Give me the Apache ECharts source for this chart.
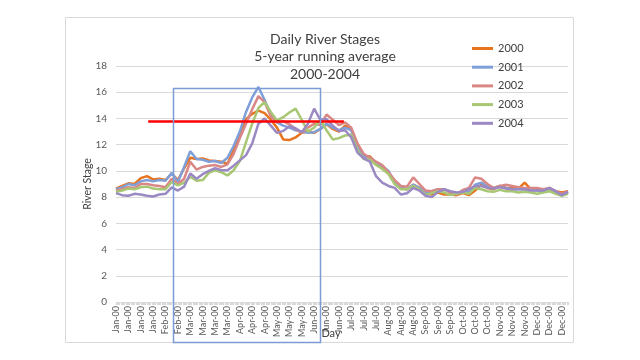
<!DOCTYPE html>
<html><head><meta charset="utf-8">
<script src="https://cdn.jsdelivr.net/npm/echarts@6/dist/echarts.min.js"></script>
<style>html,body{margin:0;padding:0;background:#fff}#c{width:640px;height:360px}</style>
</head><body><div id="c"></div>
<script>
// Day of year (2000) of each sampled point
const days = [0,5,10,15,20,25,30,35,40,45,50,55,60,65,70,75,80,85,90,95,100,105,110,115,120,125,130,135,140,145,150,155,160,165,170,175,180,
  185,190,195,200,205,210,215,220,225,230,235,240,245,250,255,260,265,270,275,280,285,290,295,300,305,310,315,320,325,330,335,340,345,350,355,360,365];

const seriesNames = ['2000','2001','2002','2003','2004'];
const seriesColors = ['#E8731E','#7E9FD8','#D98785','#A8C774','#9A89C2'];

const stage2000 = [8.65,8.85,9.05,9.0,9.45,9.6,9.35,9.4,9.3,9.8,9.3,10.2,11.0,10.9,10.95,10.8,10.75,10.7,10.55,11.6,12.8,13.95,14.35,14.6,14.4,13.9,13.3,12.4,12.35,12.55,12.9,13.0,12.9,13.2,13.55,13.2,13.0,
  13.45,13.15,11.7,11.15,11.1,10.6,10.35,9.85,9.1,8.7,8.6,8.95,8.7,8.35,8.2,8.35,8.2,8.2,8.15,8.3,8.15,8.5,8.95,8.7,8.6,8.85,8.7,8.7,8.65,9.1,8.6,8.6,8.6,8.6,8.45,8.35,8.45];
const stage2001 = [8.6,8.75,9.0,8.9,9.2,9.3,9.2,9.3,9.25,9.85,9.15,10.3,11.5,10.9,10.85,10.7,10.75,10.6,11.0,11.9,13.0,14.5,15.6,16.4,15.4,14.3,13.7,13.45,13.3,13.1,13.0,12.9,12.95,13.2,13.6,13.3,13.1,
  13.3,13.1,11.8,11.1,11.0,10.65,10.4,10.0,9.1,8.7,8.6,8.95,8.7,8.35,8.45,8.6,8.6,8.4,8.25,8.45,8.35,8.95,9.1,8.85,8.7,8.85,8.7,8.6,8.6,8.6,8.55,8.5,8.45,8.65,8.35,8.15,8.35];
const stage2002 = [8.5,8.6,8.75,8.7,9.0,9.0,8.9,8.85,8.75,9.4,9.0,9.4,10.7,10.1,10.3,10.4,10.45,10.3,10.5,11.3,12.5,13.6,14.7,15.7,15.25,14.15,13.7,13.8,13.55,13.2,12.9,13.3,13.6,13.5,14.3,13.9,13.5,
  13.7,13.3,12.1,11.3,11.0,10.7,10.45,9.9,9.3,8.85,8.8,9.5,9.0,8.5,8.45,8.6,8.6,8.35,8.2,8.55,8.7,9.5,9.4,9.0,8.7,8.85,8.95,8.85,8.75,8.7,8.7,8.7,8.6,8.7,8.45,8.25,8.45];
const stage2003 = [8.4,8.5,8.65,8.6,8.75,8.8,8.65,8.6,8.6,9.15,8.9,9.1,9.55,9.25,9.3,9.85,10.05,9.9,9.65,10.05,10.75,12.2,13.6,14.8,15.25,14.5,13.85,14.1,14.45,14.75,13.9,13.0,13.3,13.9,13.1,12.4,12.5,
  12.7,12.75,11.6,10.9,10.85,10.45,10.15,9.75,9.0,8.6,8.6,8.85,8.6,8.2,8.3,8.45,8.35,8.15,8.25,8.35,8.25,8.7,8.6,8.45,8.4,8.55,8.45,8.45,8.35,8.4,8.35,8.25,8.35,8.45,8.25,8.1,8.25];
const stage2004 = [8.3,8.15,8.1,8.25,8.2,8.1,8.05,8.2,8.25,8.75,8.5,8.8,9.8,9.4,9.75,10.0,10.2,10.05,10.05,10.4,10.8,11.2,12.1,13.6,14.0,13.45,12.9,13.05,13.4,13.25,12.95,13.6,14.75,13.9,13.95,13.45,13.05,
  13.1,12.55,11.4,10.95,10.7,9.6,9.1,8.85,8.7,8.2,8.3,8.7,8.5,8.1,8.0,8.4,8.6,8.45,8.35,8.4,8.6,8.85,8.85,8.7,8.65,8.75,8.65,8.6,8.6,8.6,8.5,8.5,8.5,8.7,8.45,8.15,8.4];
const allStages = [stage2000, stage2001, stage2002, stage2003, stage2004];

const monthNames = ['Jan','Feb','Mar','Apr','May','Jun','Jul','Aug','Sep','Oct','Nov','Dec'];
const yMin = 0, yMax = 18, yStep = 2;
const xMin = 0, xMax = 365, xStep = 10;

// annotations (data coordinates)
const refLine = {value: 13.78, fromDay: 26, toDay: 184};
const focusBox = {fromDay: 46, toDay: 165, top: 16.32, bottom: -3.07};

const FONT = 'Lato, "Liberation Sans", sans-serif';
const chart = echarts.init(document.getElementById('c'), null, {renderer: 'canvas'});

const series = seriesNames.map((n, i) => ({
  name: n, type: 'line', showSymbol: false, symbol: 'none',
  data: days.map((d, j) => [d, allStages[i][j]]),
  lineStyle: {width: 2.5, color: seriesColors[i]},
  itemStyle: {color: seriesColors[i]},
  emphasis: {disabled: true}, animation: false
}));
series[0].markLine = {
  silent: true, symbol: ['none','none'], animation: false, z: 10,
  label: {show: false},
  lineStyle: {color: '#FF0000', width: 2.5, type: 'solid'},
  data: [[{coord: [refLine.fromDay, refLine.value]}, {coord: [refLine.toDay, refLine.value]}]]
};

const option = {
  animation: false,
  color: seriesColors,
  title: {
    text: 'Daily River Stages\n5-year running average\n2000-2004',
    left: 320, top: 26, textAlign: 'center',
    textStyle: {fontFamily: FONT, fontSize: 14, fontWeight: 'normal', color: '#404040', lineHeight: 17.3, align: 'center'}
  },
  legend: {
    orient: 'vertical', left: 467, top: 37.5, itemWidth: 21, itemHeight: 3, itemGap: 6.7,
    icon: 'rect',
    textStyle: {fontFamily: FONT, fontSize: 11, color: '#404040', lineHeight: 12},
    data: seriesNames
  },
  grid: {left: 116, right: 72, top: 66, bottom: 58},
  xAxis: {
    type: 'value', min: xMin, max: xMax, interval: xStep,
    name: 'Day', nameLocation: 'middle', nameGap: 26, nameMoveOverlap: false,
    nameTextStyle: {fontFamily: FONT, fontSize: 11, color: '#404040', padding: [0, 22, 0, 0]},
    axisLine: {show: true, lineStyle: {color: '#d9d9d9', width: 1}},
    axisTick: {show: true, length: 3, lineStyle: {color: '#d9d9d9'}},
    minorTick: {show: true, splitNumber: 10, length: 3, lineStyle: {color: '#d9d9d9'}},
    splitLine: {show: false},
    axisLabel: {
      rotate: 90, fontFamily: FONT, fontSize: 9, color: '#595959', margin: 4, showMaxLabel: false,
      formatter: v => {
        if (v % 10 !== 0) return '';
        const dt = new Date(2000, 0, 1 + v);
        return monthNames[dt.getMonth()] + '-00';
      }
    }
  },
  yAxis: {
    type: 'value', min: yMin, max: yMax, interval: yStep,
    name: 'River Stage', nameLocation: 'middle', nameGap: 23, nameRotate: 90, nameMoveOverlap: false,
    nameTextStyle: {fontFamily: FONT, fontSize: 10.5, color: '#404040'},
    axisLine: {show: false}, axisTick: {show: false},
    splitLine: {lineStyle: {color: '#d9d9d9', width: 1}},
    axisLabel: {fontFamily: FONT, fontSize: 10, color: '#595959', margin: 9}
  },
  series: series
};
chart.setOption(option);

const pTL = chart.convertToPixel({xAxisIndex: 0, yAxisIndex: 0}, [focusBox.fromDay, focusBox.top]);
const pBR = chart.convertToPixel({xAxisIndex: 0, yAxisIndex: 0}, [focusBox.toDay, focusBox.bottom]);
chart.setOption({
  graphic: [
    {type: 'rect', silent: true, z: 0,
     shape: {x: 65.5, y: 17.5, width: 508, height: 325},
     style: {fill: 'none', stroke: '#d9d9d9', lineWidth: 1}},
    {type: 'rect', silent: true, z: 100,
     shape: {x: Math.round(pTL[0]) + 0.5, y: Math.round(pTL[1]) + 0.5,
             width: Math.round(pBR[0] - pTL[0]), height: Math.round(pBR[1] - pTL[1])},
     style: {fill: 'none', stroke: '#7C9CD6', lineWidth: 1.5}}
  ]
});
</script>
</body></html>
